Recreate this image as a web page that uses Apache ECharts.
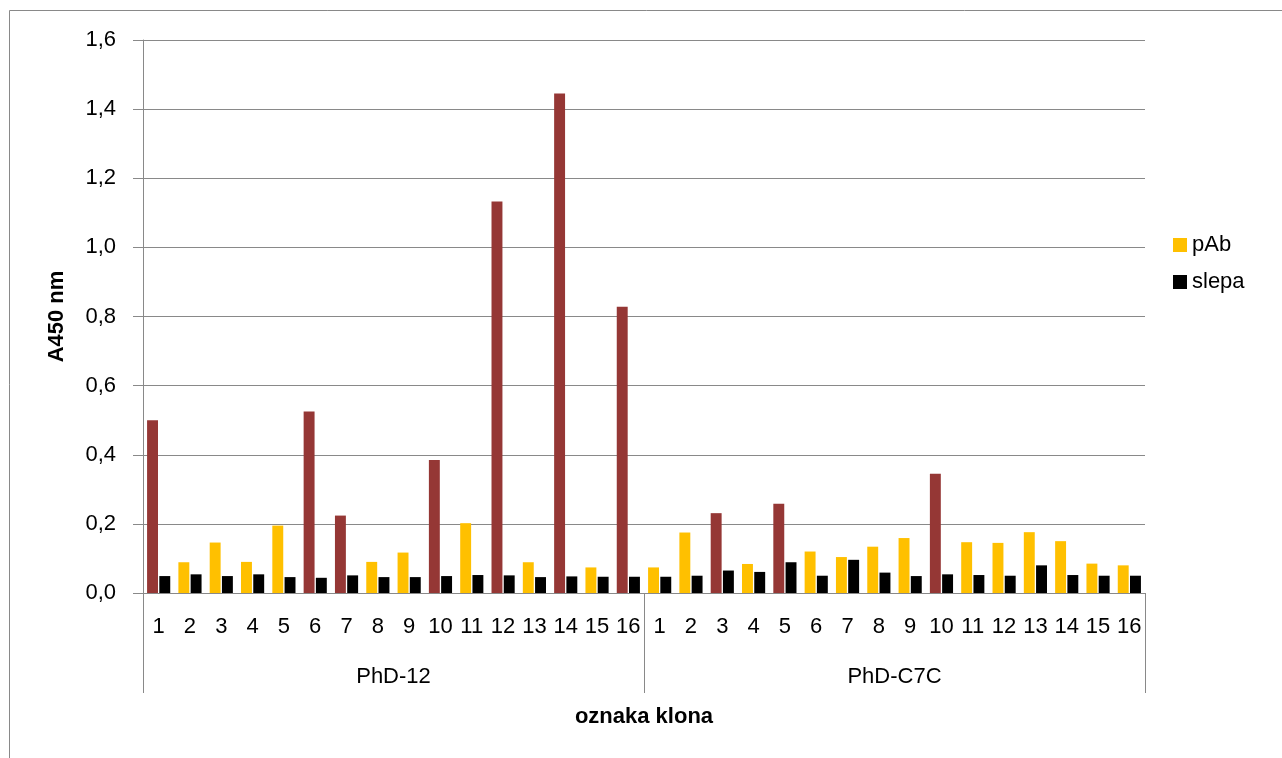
<!DOCTYPE html>
<html>
<head>
<meta charset="utf-8">
<script src="https://cdn.jsdelivr.net/npm/echarts@6/dist/echarts.min.js"></script>
<style>
    html, body { margin: 0; padding: 0; background: #fff; }
    #chart { width: 1282px; height: 758px; }
</style>
</head>
<body>
<div id="chart"></div>
<script>
// clone numbers, two groups of 16
const clones = ['1','2','3','4','5','6','7','8','9','10','11','12','13','14','15','16'];
const groups = ['PhD-12', 'PhD-C7C'];
const categories = clones.concat(clones);

const pAbPhD12 = [0.500, 0.089, 0.146, 0.090, 0.195, 0.525, 0.224, 0.090, 0.117, 0.385, 0.202, 1.133, 0.089, 1.445, 0.074, 0.828];
const pAbPhDC7C = [0.074, 0.175, 0.231, 0.084, 0.258, 0.120, 0.104, 0.134, 0.159, 0.345, 0.147, 0.145, 0.176, 0.150, 0.085, 0.080];
const slepaPhD12 = [0.049, 0.054, 0.049, 0.054, 0.046, 0.044, 0.051, 0.046, 0.046, 0.049, 0.052, 0.051, 0.046, 0.048, 0.047, 0.047];
const slepaPhDC7C = [0.047, 0.050, 0.065, 0.061, 0.089, 0.050, 0.096, 0.059, 0.049, 0.054, 0.052, 0.050, 0.080, 0.052, 0.050, 0.050];

// clones drawn in dark red (positive)
const positivePhD12 = [1, 6, 7, 10, 12, 14, 16];
const positivePhDC7C = [3, 5, 10];

const yTicks = [0, 0.2, 0.4, 0.6, 0.8, 1.0, 1.2, 1.4, 1.6];

const yellow = '#FFC000';
const darkRed = '#953735';
const gray = '#898989';
const font = 'Liberation Sans';
const fontSize = 22;

let chart = echarts.init(document.getElementById('chart'));

function markPositive(values, positives) {
    return values.map((v, i) => {
        if (positives.indexOf(i + 1) >= 0) {
            return { value: v, itemStyle: { color: darkRed } };
        }
        return v;
    });
}

let pAbData = markPositive(pAbPhD12, positivePhD12).concat(markPositive(pAbPhDC7C, positivePhDC7C));
let slepaData = slepaPhD12.concat(slepaPhDC7C);

let options = {
    backgroundColor: '#fff',
    animation: false,
    textStyle: { fontFamily: font, color: '#000' },
    graphic: [{
        type: 'rect',
        shape: { x: 9.5, y: 10.5, width: 1300, height: 800 },
        style: { fill: 'none', stroke: gray, lineWidth: 1 },
        silent: true
    }],
    grid: { left: 143, right: 137, top: 40, bottom: 165 },
    legend: {
        orient: 'vertical',
        left: 1168,
        top: 229,
        itemGap: 15,
        itemWidth: 14,
        itemHeight: 14,
        icon: 'rect',
        textStyle: { fontFamily: font, fontSize: fontSize, color: '#000' },
        data: ['pAb', 'slepa']
    },
    xAxis: [{
        type: 'category',
        data: categories,
        position: 'bottom',
        axisLine: { lineStyle: { color: gray, width: 1 } },
        axisTick: { show: false },
        axisLabel: { fontFamily: font, fontSize: fontSize, color: '#000', margin: 23, interval: 0 }
    }, {
        type: 'category',
        data: groups,
        position: 'bottom',
        axisLine: { show: false },
        axisTick: { show: true, length: 100, lineStyle: { color: gray, width: 1 } },
        axisLabel: { fontFamily: font, fontSize: fontSize, color: '#000', margin: 73 },
        name: 'oznaka klona',
        nameLocation: 'middle',
        nameGap: 113,
        nameTextStyle: { fontFamily: font, fontSize: fontSize, fontWeight: 'bold', color: '#000' }
    }],
    yAxis: {
        type: 'value',
        min: yTicks[0],
        max: yTicks[yTicks.length - 1],
        interval: 0.2,
        name: 'A450 nm',
        nameLocation: 'middle',
        nameGap: 75,
        nameTextStyle: { fontFamily: font, fontSize: fontSize, fontWeight: 'bold', color: '#000' },
        axisLine: { show: true, lineStyle: { color: gray, width: 1 } },
        axisTick: { show: true, length: 10, lineStyle: { color: gray, width: 1 } },
        axisLabel: {
            fontFamily: font, fontSize: fontSize, color: '#000', margin: 27,
            formatter: v => v.toFixed(1).replace('.', ',')
        },
        splitLine: { lineStyle: { color: gray, width: 1 } }
    },
    series: [{
        name: 'pAb',
        type: 'bar',
        xAxisIndex: 0,
        itemStyle: { color: yellow },
        barGap: '12%',
        barCategoryGap: '26%',
        data: pAbData
    }, {
        name: 'slepa',
        type: 'bar',
        xAxisIndex: 0,
        itemStyle: { color: '#000' },
        data: slepaData
    }]
};
chart.setOption(options);
</script>
</body>
</html>
